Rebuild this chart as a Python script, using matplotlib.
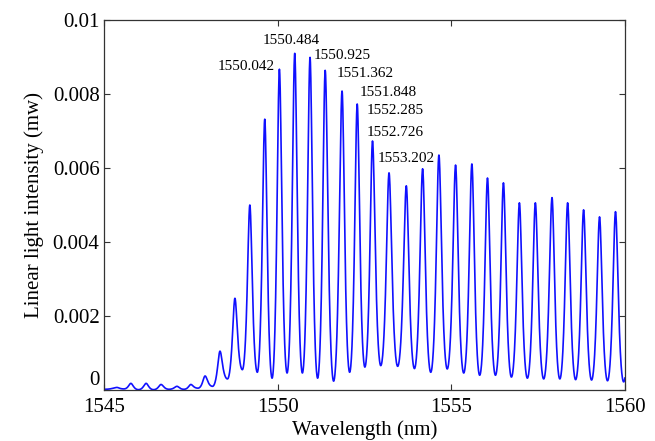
import numpy as np
import matplotlib
matplotlib.use("Agg")
from matplotlib import pyplot as plt

# peak wavelengths (nm) and peak heights (mW)
peak_nm = [1545.36, 1545.76, 1546.20, 1546.63, 1547.09, 1547.49, 1547.90, 1548.33,
           1548.76, 1549.19, 1549.62,
           1550.042, 1550.484, 1550.925, 1551.362, 1551.848, 1552.285, 1552.726, 1553.202,
           1553.70, 1554.17, 1554.64, 1555.12, 1555.59, 1556.04, 1556.50, 1556.96,
           1557.42, 1557.90, 1558.35, 1558.81, 1559.27, 1559.73, 1560.20]
peak_mw = [0.00007, 0.00018, 0.00018, 0.00015, 0.00010, 0.00015, 0.00038, 0.00105,
           0.00248, 0.00500, 0.00732,
           0.00867, 0.00910, 0.00899, 0.00864, 0.00808, 0.00773, 0.00673, 0.00587,
           0.00552, 0.00598, 0.00635, 0.00608, 0.00611, 0.00573, 0.00560, 0.00506,
           0.00506, 0.00520, 0.00506, 0.00487, 0.00468, 0.00482, 0.00480]
# minimum before each peak (first one is the start of the trace)
valley_mw = [0.00002, 0.00003, 0.00001, 0.00001, 0.00002, 0.00002, 0.00005, 0.00010,
             0.00030, 0.00055, 0.00048,
             0.00032, 0.00046, 0.00046, 0.00032, 0.00024, 0.00048, 0.00062, 0.00066,
             0.00064, 0.00058, 0.00048, 0.00057, 0.00046, 0.00040, 0.00040, 0.00035,
             0.00032, 0.00030, 0.00030, 0.00028, 0.00027, 0.00025, 0.00022]

label_text = ["1550.042", "1550.484", "1550.925", "1551.362",
              "1551.848", "1552.285", "1552.726", "1553.202"]
label_x = [1548.27, 1549.57, 1551.04, 1551.70, 1552.36, 1552.56, 1552.56, 1552.88]
label_y = [0.00875, 0.00945, 0.00904, 0.00856, 0.00805, 0.00756, 0.00697, 0.00627]


def airy_edge(t, finesse=1.6):
    # rises 0 -> 1 with a sharp top like a comb filter fringe
    a = 1.0 / (1.0 + finesse * np.sin(np.pi / 2 * (1 - t)) ** 2)
    a0 = 1.0 / (1.0 + finesse)
    return (a - a0) / (1 - a0)


def build_trace():
    pk = np.array(peak_nm)
    # valley positions halfway between peaks, first one at the start
    vx = np.concatenate(([1545.0], (pk[:-1] + pk[1:]) / 2, [pk[-1] + 0.23]))
    vy = list(valley_mw) + [valley_mw[-1]]
    xs, ys = [], []
    for i in range(len(pk)):
        # rising edge
        t = np.linspace(0, 1, 40)
        xs.append(vx[i] + (pk[i] - vx[i]) * t)
        ys.append(vy[i] + (peak_mw[i] - vy[i]) * airy_edge(t))
        # falling edge
        t = np.linspace(1, 0, 40)
        xs.append(pk[i] + (vx[i + 1] - pk[i]) * (1 - t))
        ys.append(vy[i + 1] + (peak_mw[i] - vy[i + 1]) * airy_edge(t))
    return np.concatenate(xs), np.concatenate(ys)


plt.rcParams['font.family'] = ['Liberation Serif', 'DejaVu Serif']

fig = plt.figure(figsize=(6.55, 4.41), dpi=100)
ax = fig.add_axes([0.1595, 0.1156, 0.7945, 0.839])

x, y = build_trace()
ax.plot(x, y, color='#1010ff', lw=1.2)

for txt, tx, ty in zip(label_text, label_x, label_y):
    ax.text(tx, ty, txt, ha='left', va='center', fontsize=11)

ax.set_xlim(1545, 1560)
ax.set_ylim(0, 0.01)
ax.set_xticks([1545, 1550, 1555, 1560])
ax.set_yticks([0, 0.002, 0.004, 0.006, 0.008, 0.01])
ax.set_yticklabels(['0', '0.002', '0.004', '0.006', '0.008', '0.01'])
ax.tick_params(direction='in', length=4, width=0.8, top=True, right=True,
               labelsize=15, colors='#333333', labelcolor='black')
ax.tick_params(axis='x', pad=6)
# lift the zero label clear of the 1545 label, as in the original
ax.get_yticklabels()[0].set_va('bottom')
for s in ax.spines.values():
    s.set_color('#333333')
    s.set_linewidth(0.9)

ax.set_xlabel('Wavelength (nm)', fontsize=15, labelpad=2)
ax.set_ylabel('Linear light intensity (mw)', fontsize=15, labelpad=6)

fig.savefig('out.png', dpi=100)
